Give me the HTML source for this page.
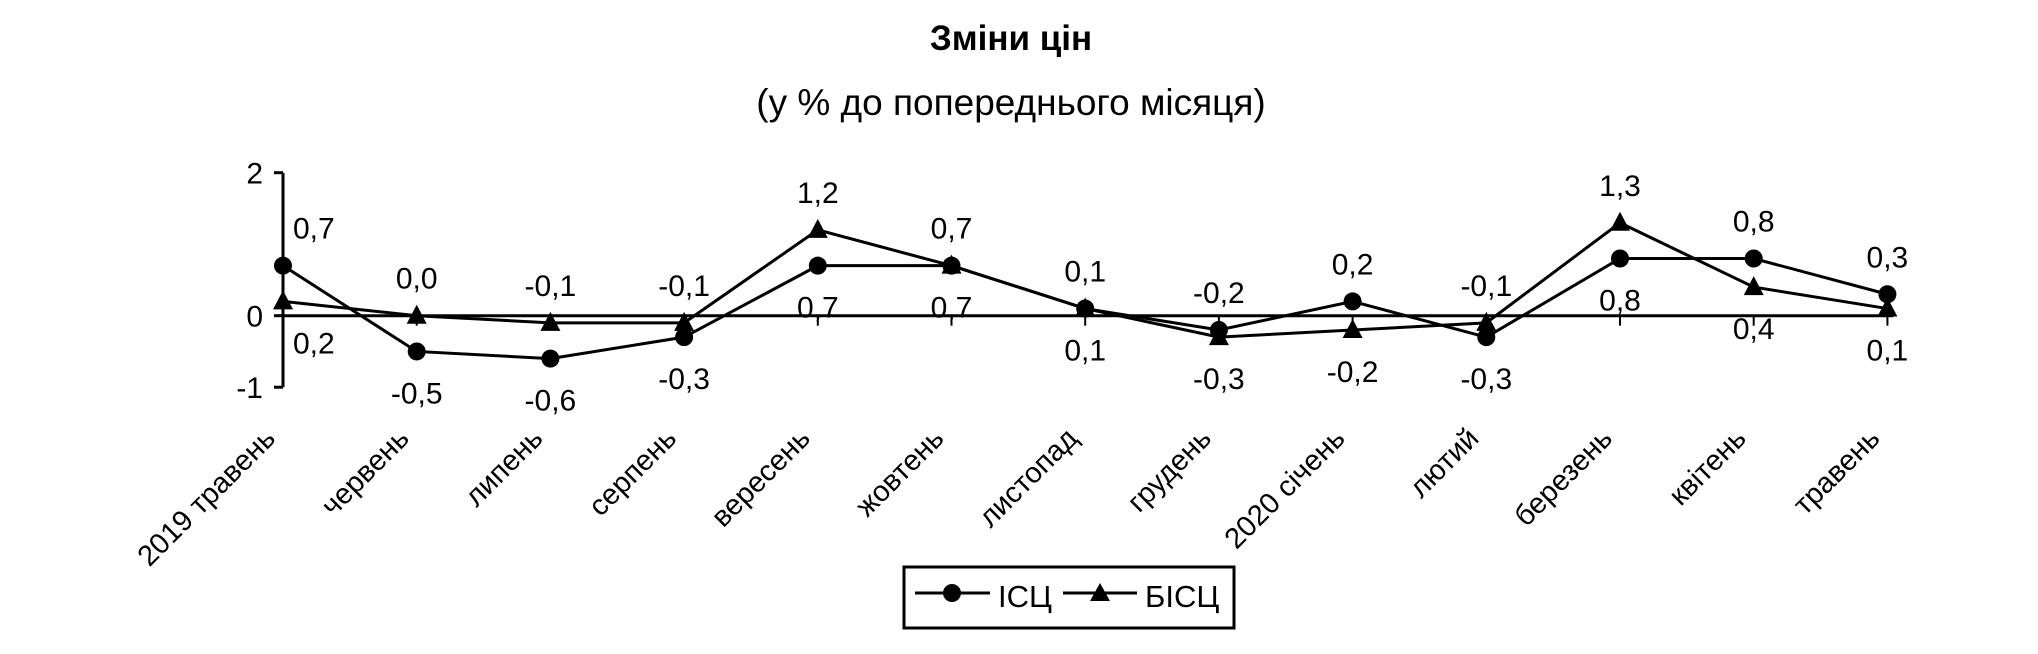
<!DOCTYPE html>
<html><head><meta charset="utf-8"><style>
html,body{margin:0;padding:0;background:#fff;}
svg{display:block;font-family:"Liberation Sans",sans-serif;}
</style></head><body>
<svg id="chart" width="2038" height="654" viewBox="0 0 2038 654" xmlns="http://www.w3.org/2000/svg">
<text x="1011" y="50" text-anchor="middle" font-size="35" font-weight="bold">Зміни цін</text>
<text x="1011" y="115" text-anchor="middle" font-size="37">(у % до попереднього місяця)</text>
<g id="plot"></g>
<g>
<rect x="904" y="567" width="330" height="61" fill="none" stroke="#000" stroke-width="3"/>
<g>
<line x1="915" y1="593" x2="990" y2="593" stroke="#000" stroke-width="3"/>
<circle cx="952" cy="593" r="9"/>
<text x="998" y="607" font-size="31">ІСЦ</text>
</g>
<g>
<line x1="1063" y1="593" x2="1137" y2="593" stroke="#000" stroke-width="3"/>
<polygon points="1100,583 1110,601 1090,601"/>
<text x="1145" y="607" font-size="31">БІСЦ</text>
</g>
</g>
</svg>
<script>
const categories = ["2019 травень","червень","липень","серпень","вересень","жовтень","листопад","грудень","2020 січень","лютий","березень","квітень","травень"];
const iscValues = [0.7,-0.5,-0.6,-0.3,0.7,0.7,0.1,-0.2,0.2,-0.3,0.8,0.8,0.3];
const biscValues = [0.2,0.0,-0.1,-0.1,1.2,0.7,0.1,-0.3,-0.2,-0.1,1.3,0.4,0.1];
const yTicks = [2,0,-1];

const NS = "http://www.w3.org/2000/svg";
const g = document.getElementById('plot');
const X0 = 283, DX = 133.7, Y0 = 315.7, UNIT = 71.5;
const xs = i => X0 + i * DX;
const ys = v => Y0 - v * UNIT;
function mk(tag, attrs, parent) {
  const e = document.createElementNS(NS, tag);
  for (const k in attrs) e.setAttribute(k, attrs[k]);
  (parent || g).appendChild(e);
  return e;
}
const fmt = v => v.toFixed(1).replace('.', ',');

const yAxis = mk('line', {x1: X0, y1: ys(2), x2: X0, y2: ys(-1), stroke: '#000', 'stroke-width': 3});


yTicks.forEach(t => {
  const tk = mk('line', {x1: X0 - 9, y1: ys(t), x2: X0, y2: ys(t), stroke: '#000', 'stroke-width': 3});
  
  
  const lb = mk('text', {x: X0 - 20, y: ys(t) + 11, 'text-anchor': 'end', 'font-size': 30});
  
  
  lb.textContent = String(t);
});
const zl = mk('line', {x1: X0, y1: ys(0), x2: xs(categories.length - 1) + 6, y2: ys(0), stroke: '#000', 'stroke-width': 3});


categories.forEach((c, i) => {
  const tk = mk('line', {x1: xs(i), y1: ys(0), x2: xs(i), y2: ys(0) + 10, stroke: '#000', 'stroke-width': 2});
  
  
  const x = xs(i) - 6, y = 440;
  const lb = mk('text', {x: x, y: y, 'text-anchor': 'end', 'font-size': 29, transform: `rotate(-45 ${x} ${y})`});
  
  
  lb.textContent = c;
});
function series(vals, name) {
  const pl = mk('polyline', {points: vals.map((v, i) => xs(i) + ',' + ys(v)).join(' '), fill: 'none', stroke: '#000', 'stroke-width': 3});
  
  
}
series(iscValues, 'isc');
series(biscValues, 'bisc');
iscValues.forEach((v, i) => {
  const c = mk('circle', {cx: xs(i), cy: ys(v), r: 9});
  
  
});
biscValues.forEach((v, i) => {
  const x = xs(i), y = ys(v);
  const p = mk('polygon', {points: `${x},${y - 11} ${x + 10},${y + 8} ${x - 10},${y + 8}`});
  
  
});
categories.forEach((c, i) => {
  const a = iscValues[i], b = biscValues[i];
  const iscAbove = a > b;
  const place = (v, above, name) => {
    let x = xs(i), anchor = 'middle';
    if (i === 0) { x = xs(i) + 10; anchor = 'start'; }
    const y = above ? ys(v) - 27 : ys(v) + 52;
    const t = mk('text', {x: x, y: y, 'text-anchor': anchor, 'font-size': 30});
    
    
    t.textContent = fmt(v);
  };
  place(a, iscAbove, 'isc');
  place(b, !iscAbove, 'bisc');
});
</script>
</body></html>
